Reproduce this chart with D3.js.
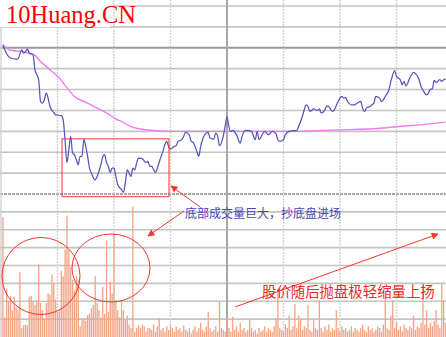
<!DOCTYPE html>
<html>
<head>
<meta charset="utf-8">
<script src="https://cdn.jsdelivr.net/npm/d3@7/dist/d3.min.js"></script>
<style>
body{margin:0;background:#fff;}
svg{display:block;}
</style>
</head>
<body>
<div id="chart"></div>
<script>
// minute from the open (1 = 9:31), change against previous close in %
const priceLine = [[1,0.14],[2,-0.10],[5,-0.49],[8,-0.54],[9,-0.53],[11,-0.10],[12,-0.25],[13,-0.18],[14,-0.06],[15,-0.25],[17,-0.33],[18,-1.05],[20,-1.53],[21,-2.57],[22,-2.65],[23,-2.49],[24,-2.17],[25,-2.41],[26,-2.81],[28,-3.10],[29,-3.21],[32,-3.25],[33,-3.44],[34,-4.40],[35,-5.49],[36,-4.88],[37,-4.24],[38,-5.04],[39,-5.12],[40,-5.36],[41,-5.60],[42,-5.20],[43,-5.20],[44,-4.40],[45,-4.72],[46,-5.20],[47,-5.76],[48,-6.00],[50,-6.32],[51,-6.16],[53,-5.60],[54,-5.23],[55,-5.12],[56,-5.49],[57,-5.68],[58,-5.97],[59,-5.76],[60,-5.76],[61,-6.16],[62,-6.56],[64,-6.79],[65,-6.92],[66,-6.47],[67,-5.84],[68,-6.00],[69,-6.16],[70,-5.76],[71,-5.84],[72,-5.52],[73,-5.28],[75,-5.31],[77,-5.49],[78,-5.44],[79,-5.68],[80,-5.68],[82,-5.97],[83,-5.76],[85,-5.20],[86,-4.96],[87,-4.64],[88,-4.48],[89,-4.72],[90,-4.85],[92,-4.72],[93,-4.69],[94,-4.48],[96,-4.40],[97,-4.24],[98,-4.05],[100,-4.16],[101,-4.48],[102,-4.53],[104,-4.96],[105,-5.20],[106,-4.72],[107,-4.40],[109,-4.08],[110,-4.05],[111,-4.32],[113,-4.37],[114,-4.08],[115,-4.21],[116,-4.69],[118,-4.24],[119,-3.77],[120,-3.29],[121,-3.77],[122,-4.00],[123,-3.96],[125,-4.16],[127,-4.56],[128,-4.24],[130,-3.96],[131,-3.96],[133,-4.00],[135,-4.40],[136,-4.00],[137,-4.40],[139,-4.11],[140,-4.00],[142,-4.16],[144,-4.00],[146,-4.11],[147,-4.40],[148,-4.48],[150,-4.40],[151,-4.16],[153,-4.00],[155,-3.97],[157,-3.96],[158,-3.77],[160,-3.29],[161,-2.97],[162,-2.73],[163,-2.81],[164,-3.05],[166,-2.93],[168,-3.00],[169,-2.93],[170,-3.12],[172,-2.97],[173,-2.78],[174,-2.81],[176,-3.05],[177,-2.97],[179,-2.57],[181,-2.33],[182,-2.41],[183,-2.38],[184,-2.57],[186,-2.73],[188,-2.73],[189,-2.65],[191,-2.57],[192,-2.89],[193,-3.05],[194,-2.89],[196,-2.81],[197,-2.73],[198,-2.65],[199,-2.33],[201,-2.41],[202,-2.57],[203,-2.49],[204,-2.33],[206,-2.01],[207,-1.61],[208,-1.29],[209,-1.09],[210,-1.37],[212,-1.53],[213,-1.77],[214,-1.61],[215,-1.82],[216,-1.69],[217,-1.45],[218,-1.29],[219,-1.18],[221,-1.34],[222,-1.53],[223,-1.85],[224,-2.01],[226,-2.25],[227,-2.17],[228,-1.98],[229,-1.98],[230,-1.56],[231,-1.66],[233,-1.53],[234,-1.61],[235,-1.53],[236,-1.50]];

// average price line, same units
const avgLine = [[1,0.14],[5,-0.12],[11,-0.18],[14,-0.25],[18,-0.36],[21,-0.66],[26,-1.05],[31,-1.45],[35,-1.91],[39,-2.33],[46,-2.65],[51,-2.89],[56,-3.12],[61,-3.41],[64,-3.53],[69,-3.77],[74,-3.89],[81,-3.96],[90,-4.00],[122,-4.00],[157,-4.00],[175,-3.94],[185,-3.92],[203,-3.84],[210,-3.78],[224,-3.68],[236,-3.56]];

// volume per minute, index 0 = minute 1 (units of one grid row)
const volumes = [6.7,1.1,2.7,2.0,2.3,1.5,2.25,1.7,1.5,3.65,0.5,0.67,0.7,0.65,2.25,2.3,2.0,1.8,2.06,4.06,
	1.9,1.5,1.06,1.9,2.45,2.35,3.5,3.0,2.1,1.4,1.5,3.7,3.4,4.9,6.8,4.86,3.9,3.2,2.6,3.4,
	3.2,0.6,0.95,1.06,0.9,1.23,1.3,1.6,1.8,3.4,1.9,1.5,1.1,2.8,1.3,5.4,1.4,3.1,2.45,5.8,
	2.06,1.5,1.1,2.06,1.5,0.95,1.2,0.7,0.5,7.3,0.3,0.5,0.65,0.5,0.7,0.6,0.3,0.5,
	0.5,0.4,0.7,0.3,0.6,1.06,0.4,0.5,0.3,0.6,
	0.4,0.7,0.5,0.3,0.6,0.4,0.5,0.3,0.65,0.4,
	0.3,0.5,0.2,0.4,0.6,0.3,0.5,0.8,0.4,0.3,
	0.6,1.4,0.5,0.3,0.4,0.6,0.3,2.0,0.5,0.4,
	0.3,1.06,0.5,0.3,1.13,0.4,0.6,0.3,0.8,0.4,
	0.5,0.3,0.4,0.95,0.5,0.3,0.4,0.2,0.5,0.3,
	0.4,0.6,0.3,0.5,0.4,0.3,0.6,1.06,2.7,0.5,
	0.4,0.3,0.7,0.5,1.2,0.4,0.6,1.84,0.5,1.2,
	1.0,0.4,0.6,0.5,1.8,0.4,0.3,0.95,0.5,0.4,
	2.06,0.5,0.3,0.6,0.4,0.7,0.3,0.5,0.4,1.5,
	0.5,0.3,0.6,0.4,0.5,0.3,0.4,0.6,0.3,0.5,
	0.4,0.3,0.5,0.7,0.4,0.3,0.6,0.4,0.5,0.3,
	0.4,0.6,0.5,0.3,0.7,2.25,0.5,0.4,1.2,2.06,
	0.5,0.8,0.4,0.6,0.3,0.7,0.5,0.4,0.6,0.5,
	1.2,0.4,0.6,0.5,0.8,3.0,0.7,1.5,0.5,0.8,
	0.6,0.9,1.5,0.7,0.5,3.0,2.06,0.8];

const priceTicks = [2,1,0,-1,-2,-3,-4,-5,-6,-7];
const volumeTicks = [1,2,3,4,5,6,7];
const timeTicks = [0,30,60,90,120,150,180,210,240];

const title = '10Huang.CN';
const noteBottom = '底部成交量巨大，抄底盘进场';
const noteRise = '股价随后抛盘极轻缩量上扬';

const _W = 446, _H = 337;
const _svg = d3.select('#chart').append('svg').attr('width',_W).attr('height',_H);

const _x = d3.scaleLinear().domain([0,240]).range([1,453]),
	_yP = d3.scaleLinear().domain([-7,2]).range([194,6]),
	_yV = d3.scaleLinear().domain([0,8]).range([337,194]);

const red = '#ee3a2e';

_svg.append('defs').append('marker')
	.attr('id','arrow')
	.attr('viewBox','0 0 10 10')
	.attr('refX',9).attr('refY',5)
	.attr('markerWidth',9).attr('markerHeight',7)
	.attr('markerUnits','userSpaceOnUse')
	.attr('orient','auto')
	.append('path')
	.attr('d','M0,0L10,5L0,10z')
	.style('fill',red);

// grid
const grid = _svg.append('g').attr('class','grid');
grid.selectAll('.hp')
	.data(priceTicks)
	.enter()
	.append('line')
	.attr('x1',0).attr('x2',_W)
	.attr('y1',d=>_yP(d)).attr('y2',d=>_yP(d))
	.style('stroke',d=>d===0?'#9a9a9a':(d===-7?'#8c8c8c':'#c4c4c4'))
	.style('stroke-width',d=>d===0?2:1.6)
	.style('stroke-dasharray',d=>d===-7?'3,1':null);
grid.selectAll('.hv')
	.data(volumeTicks)
	.enter()
	.append('line')
	.attr('x1',0).attr('x2',_W)
	.attr('y1',d=>_yV(d)).attr('y2',d=>_yV(d))
	.style('stroke','#c4c4c4')
	.style('stroke-width',1.6);
grid.selectAll('.vt')
	.data(timeTicks)
	.enter()
	.append('line')
	.attr('x1',d=>_x(d)).attr('x2',d=>_x(d))
	.attr('y1',0).attr('y2',_H)
	.style('stroke',d=>d===120?'#a8a8a8':'#d2d2d2')
	.style('stroke-width',d=>d===120?2:1.4)
	.style('stroke-dasharray',d=>(d===120||d===0)?null:'2,1');

// volume bars
_svg.append('g').attr('class','volume')
	.selectAll('rect')
	.data(volumes)
	.enter()
	.append('rect')
	.attr('x',(d,i)=>_x(i+1)-0.6)
	.attr('width',1.3)
	.attr('y',d=>_yV(d))
	.attr('height',d=>_yV(0)-_yV(d))
	.style('fill','#f4a384');

// average and price lines
const line = d3.line().x(d=>_x(d[0])).y(d=>_yP(d[1])).curve(d3.curveMonotoneX);
_svg.append('path')
	.datum(avgLine)
	.attr('d',line)
	.style('fill','none')
	.style('stroke','#f27af2')
	.style('stroke-width',1.4);
_svg.append('path')
	.datum(priceLine)
	.attr('d',line)
	.style('fill','none')
	.style('stroke','#5656ba')
	.style('stroke-width',1.25);

// title
_svg.append('rect')
	.attr('x',0).attr('y',0).attr('width',110).attr('height',27)
	.style('fill','#fff');
_svg.append('text')
	.attr('x',6).attr('y',23)
	.text(title)
	.style('font-family','"Liberation Serif", "Times New Roman", serif')
	.style('font-size','24.5px')
	.style('fill','#f00');

// annotations
const notes = _svg.append('g').attr('class','notes')
	.style('fill','none').style('stroke',red).style('stroke-width',1);
notes.append('rect')
	.attr('x',_x(32.4)).attr('y',_yP(-4.36))
	.attr('width',_x(89.2)-_x(32.4)).attr('height',_yP(-7.13)-_yP(-4.36));
notes.append('ellipse')
	.attr('cx',41).attr('cy',276).attr('rx',39).attr('ry',38.5);
notes.append('ellipse')
	.attr('cx',111).attr('cy',268).attr('rx',39).attr('ry',34);
[[200,207,171,186],[184,211,148,236],[235,307,438,234]].forEach(a=>{
	notes.append('line')
		.attr('x1',a[0]).attr('y1',a[1]).attr('x2',a[2]).attr('y2',a[3])
		.attr('marker-end','url(#arrow)');
});

_svg.append('text')
	.attr('x',185).attr('y',218)
	.text(noteBottom)
	.style('font-family','"Noto Sans CJK SC", sans-serif')
	.style('font-size','12px')
	.style('fill','#4646b4');
_svg.append('text')
	.attr('x',262).attr('y',297)
	.text(noteRise)
	.style('font-family','"Noto Sans CJK SC", sans-serif')
	.style('font-size','14.4px')
	.style('fill','#f02a1e');
</script>
</body>
</html>
